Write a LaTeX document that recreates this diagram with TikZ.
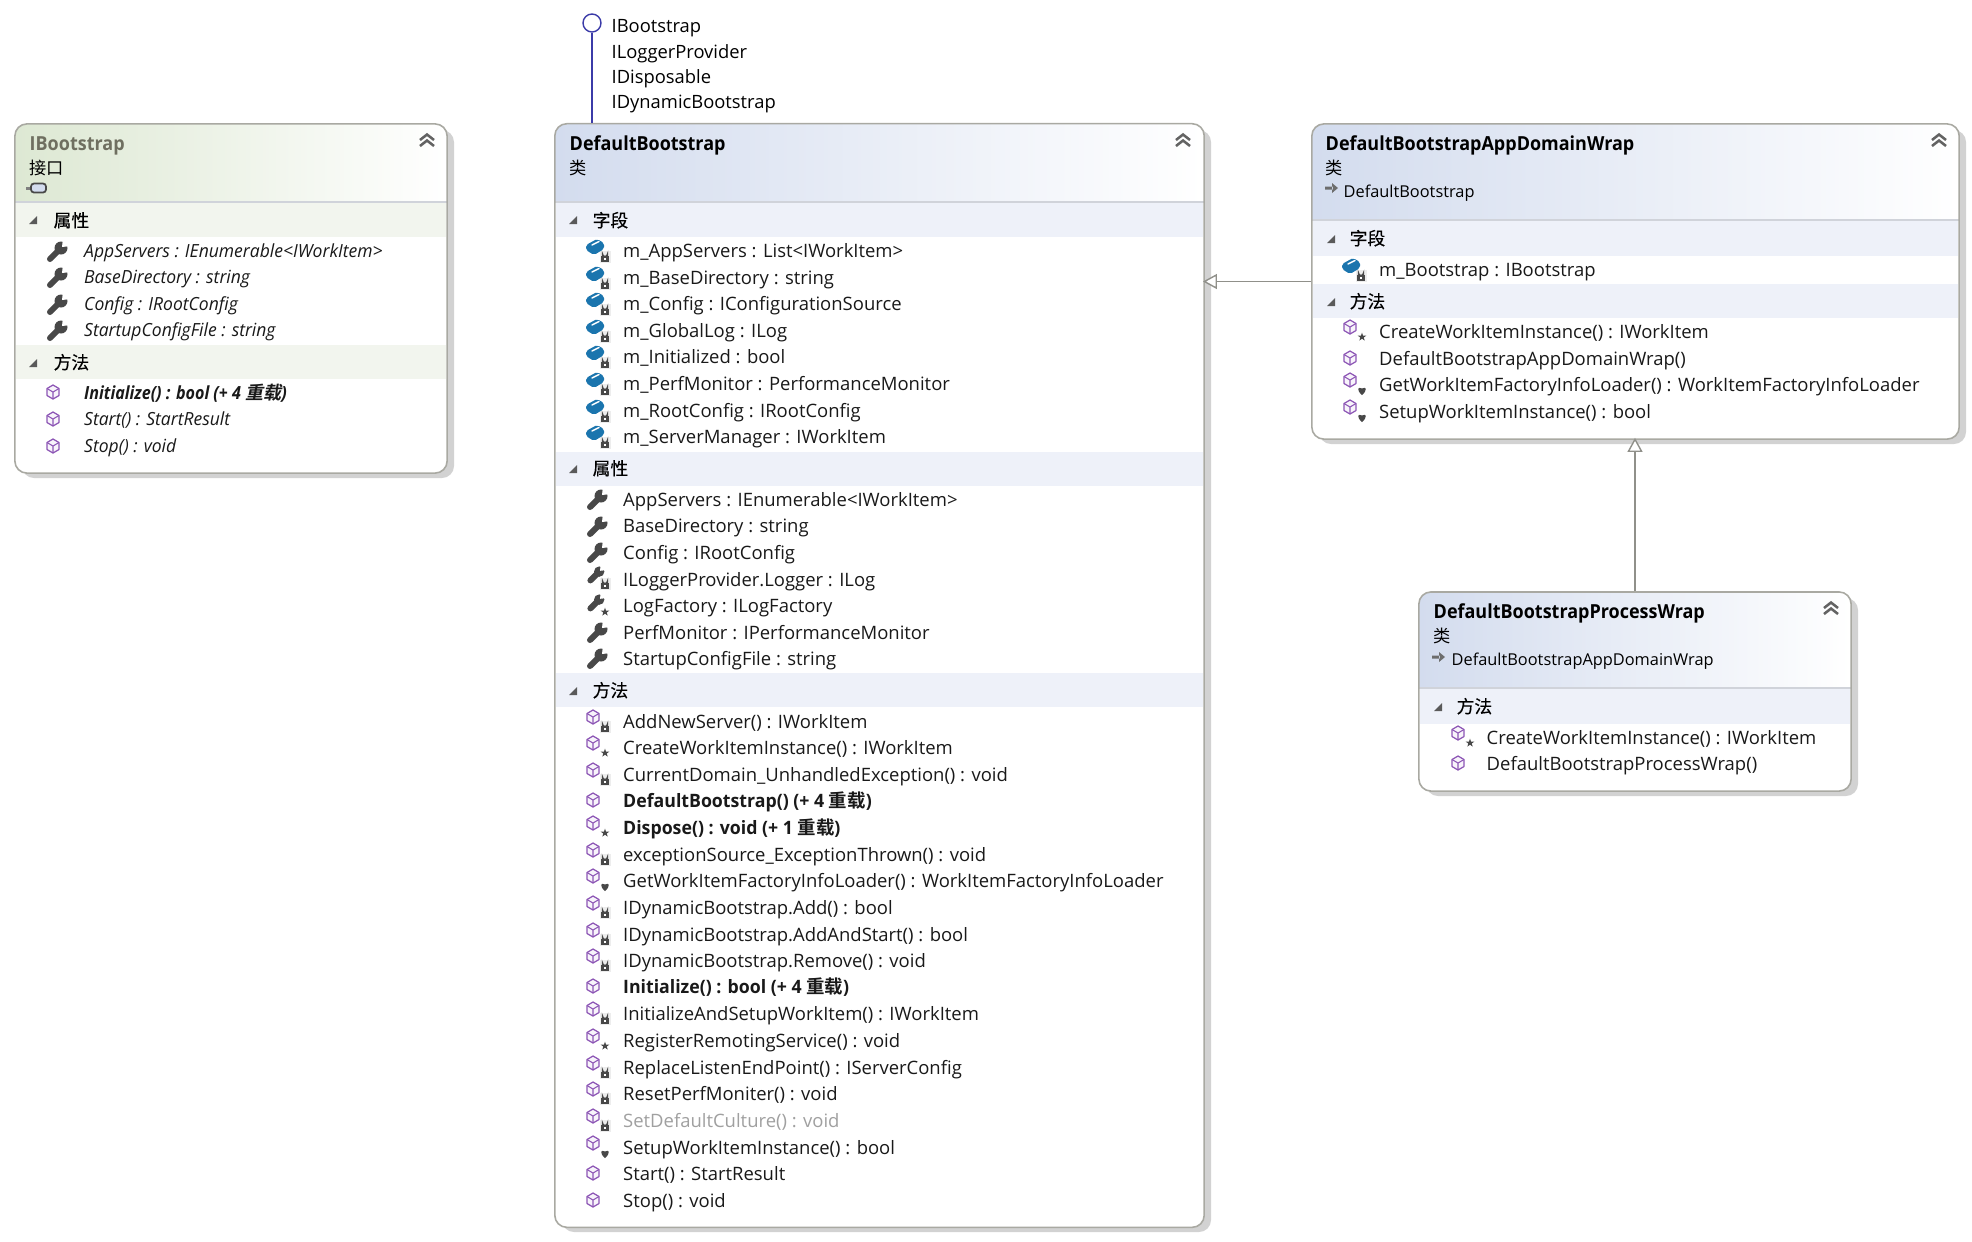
\documentclass[tikz,border=0pt]{standalone}
\usepackage{fontspec}
\setmainfont{Open Sans}
\newfontfamily\cjk[BoldFont=Noto Sans CJK SC Bold,ItalicFont=Noto Sans CJK SC,ItalicFeatures={FakeSlant=0.2},BoldItalicFont=Noto Sans CJK SC Bold,BoldItalicFeatures={FakeSlant=0.2}]{Noto Sans CJK SC}
\usetikzlibrary{arrows.meta, positioning, calc}
\definecolor{boxline}{HTML}{A9A9A2}
\definecolor{boxshadow}{HTML}{D2D2D2}
\definecolor{hdrblue}{HTML}{D3DCEE}
\definecolor{hdrgreen}{HTML}{DDE8D3}
\definecolor{bandblue}{HTML}{EEF1F9}
\definecolor{bandgreen}{HTML}{F2F5EE}
\definecolor{sepline}{HTML}{D0D3DA}
\definecolor{ifaceblue}{HTML}{3B3BA8}
\definecolor{cubepurple}{HTML}{8C55B5}
\definecolor{cubefill}{HTML}{F8F4FB}
\definecolor{fieldblue}{HTML}{1B75AE}
\definecolor{icongray}{HTML}{484848}
\definecolor{lockback}{HTML}{EDEDED}
\definecolor{greytext}{HTML}{6F6F60}
\definecolor{dimtext}{HTML}{A0A0A0}
% box background: x1,y1,x2,y2,header bottom,header colour
\newcommand{\boxback}[6]{%
  \fill[boxshadow, rounded corners=0.12cm] (#1+7,#2+6) rectangle (#3+7,#4+5);
  \begin{scope}
    \clip[rounded corners=0.12cm] (#1,#2) rectangle (#3,#4);
    \fill[white] (#1,#2) rectangle (#3,#4);
    \shade[left color=#6, right color=white] (#1,#2) rectangle (#3,#5);
    \draw[sepline, line width=0.3pt] (#1,#5) -- (#3,#5);
  \end{scope}}

\begin{document}
\begin{tikzpicture}[
    x=0.01cm, y=-0.01cm,
    classbox/.style={draw=boxline, line width=0.45pt, rounded corners=0.12cm, inner sep=0pt},
    title/.style={anchor=base west, inner sep=0pt, yshift=-0.07cm, font=\fontsize{5.5}{6}\selectfont\bfseries\addfontfeature{FakeStretch=0.93}},
    kind/.style={anchor=base west, inner sep=0pt, yshift=-0.06cm, font=\fontsize{4.9}{6}\selectfont\cjk},
    base/.style={anchor=base west, inner sep=0pt, yshift=-0.07cm, font=\fontsize{5.22}{6}\selectfont},
    basename/.style={base, font=\fontsize{4.65}{6}\selectfont},
    sect/.style={anchor=base west, inner sep=0pt, yshift=-0.07cm, font=\fontsize{5.05}{6}\selectfont\cjk\addfontfeature{FakeBold=0.4}},
    item/.style={anchor=base west, inner sep=0pt, yshift=-0.07cm, text=black!90, font=\fontsize{5.25}{6}\selectfont},
    ital/.style={item, font=\fontsize{5.15}{6}\selectfont\itshape\addfontfeature{FakeStretch=0.967}},
    heavyital/.style={item, font=\fontsize{5.15}{6}\selectfont\bfseries\itshape\addfontfeature{FakeStretch=0.89}},
    heavy/.style={item, font=\fontsize{5.25}{6}\selectfont\bfseries\addfontfeature{FakeStretch=0.96}},
    inherit/.style={draw=boxline!85!black, line width=0.4pt, shorten >=-0.02cm, -{Triangle[open, fill=white, length=0.14cm, width=0.15cm]}},
    lolly/.style={draw=ifaceblue, line width=0.4pt},
    chev/.pic={\draw[icongray!85, line width=0.72pt] (-7,-1) -- (0,-6.5) -- (7,-1) (-7,5) -- (0,-0.5) -- (7,5);},
    tri/.pic={\fill[icongray!90] (4,-4) -- (4,4) -- (-4,4) -- cycle;},
    inh/.pic={\fill[icongray!80] (-7,-1.5) rectangle (1,1.5) (0,-5) -- (6,0) -- (0,5) -- cycle;},
    plug/.pic={\fill[icongray!70] (-10,-1.5) rectangle (-4,1.5);
      \draw[icongray, fill=hdrblue, line width=0.5pt, rounded corners=0.03cm] (-5,-4.5) rectangle (10,4.5);},
    wrench/.pic={\draw[icongray, line width=1.7pt, line cap=round] (-7,8) -- (3,-2);
      \fill[icongray] (4,-3) circle (6.5);
      \fill[white] (5,-4) -- (14,-5) -- (6,-13) -- cycle;},
    lock/.pic={\fill[lockback] (-5.5,-6) rectangle (5.5,6);
      \draw[icongray, line width=0.4pt] (-2.5,-1) -- (-2.5,-3) arc (180:0:2.5) -- (2.5,-1);
      \fill[icongray] (-4,-1) rectangle (4,4.5);
      \fill[white] (-1,0.7) rectangle (1,2.7);},
    star/.pic={\fill[icongray] (0,-4.5) -- (1,-1.4) -- (4.3,-1.4) -- (1.7,0.5) -- (2.7,3.6) -- (0,1.7) -- (-2.7,3.6) -- (-1.7,0.5) -- (-4.3,-1.4) -- (-1,-1.4) -- cycle;},
    heart/.pic={\fill[icongray] (0,5) .. controls (-6,0) and (-4,-4) .. (0,-1.5) .. controls (4,-4) and (6,0) .. (0,5) -- cycle;},
    meth/.pic={\draw[cubepurple, fill=cubefill, line width=0.35pt, line join=round] (0,-7) -- (6,-3.5) -- (6,3.5) -- (0,7) -- (-6,3.5) -- (-6,-3.5) -- cycle;
      \draw[cubepurple, line width=0.3pt] (-6,-3.5) -- (0,0) -- (6,-3.5) (0,0) -- (0,7);},
    methlock/.pic={\pic at (12,6) {lock}; \pic at (0,-4) {meth};},
    methstar/.pic={\pic at (0,-4) {meth}; \pic at (12,6) {star};},
    methheart/.pic={\pic at (0,-4) {meth}; \pic at (12,6) {heart};},
    field/.pic={\pic at (10,9) {lock};
      \fill[fieldblue, rounded corners=0.02cm] (-9,-3) -- (2,-9) -- (9,-5) -- (9,1) -- (-1,7) -- (-9,2) -- cycle;
      \draw[white, line width=0.4pt, line cap=round] (-3,-3) -- (4,-6.5);},
    wrenchlock/.pic={\pic at (11,5) {lock}; \pic[scale=0.8] at (2,-5) {wrench};},
    wrenchstar/.pic={\pic at (11,7) {star}; \pic[scale=0.8] at (2,-3) {wrench};},
]
\useasboundingbox (0,0) rectangle (1972,1241);

% Box backgrounds
\boxback{15}{124}{447}{473}{202}{hdrgreen}
\fill[bandgreen] (16,203) rectangle (446,237);
\fill[bandgreen] (16,345) rectangle (446,379);
\boxback{555}{124}{1204}{1227}{202}{hdrblue}
\fill[bandblue] (556,203) rectangle (1203,237);
\fill[bandblue] (556,452) rectangle (1203,486);
\fill[bandblue] (556,673) rectangle (1203,707);
\boxback{1312}{124}{1959}{439}{220}{hdrblue}
\fill[bandblue] (1313,221) rectangle (1958,256);
\fill[bandblue] (1313,284) rectangle (1958,318);
\boxback{1419}{592}{1851}{791}{688}{hdrblue}
\fill[bandblue] (1420,689) rectangle (1850,724);

% Class boxes
\node[classbox, minimum width=4.32cm, minimum height=3.49cm] (ib) at (231,298.5) {};
\node[classbox, minimum width=6.49cm, minimum height=11.03cm] (db) at (879.5,675.5) {};
\node[classbox, minimum width=6.47cm, minimum height=3.15cm] (ad) at (1635.5,281.5) {};
\node[classbox, minimum width=4.32cm, minimum height=1.99cm] (pw) at (1635,691.5) {};

% Connectors
\draw[inherit] (ad) -- (ad -| db.east);
\draw[inherit] (pw) -- (pw |- ad.south);
\node[circle, draw=ifaceblue, line width=0.4pt, fill=white, minimum size=0.18cm, inner sep=0pt] (lp) at (592,23) {};
\draw[lolly] (lp) -- (lp |- db.north);

% Lollipop labels
\node[base] (if1) at (611,25) {IBootstrap};
\node[base] (if2) at (611,51) {ILoggerProvider};
\node[base] (if3) at (611,76) {IDisposable};
\node[base] (if4) at (611,101) {IDynamicBootstrap};

% IBootstrap header
\node[title, text=greytext] (ibname) at (29,143) {IBootstrap};
\node[kind] (ibkind) at (29,168) {接口};
\pic at (36,188) {plug};
\pic at (427,141) {chev};
% IBootstrap properties
\pic at (33,220) {tri};
\node[sect] (ibs1) at (53,220) {属性};
\node[ital] (ibp1) at (83.5,250) {AppServers : IEnumerable<IWorkItem>}; \pic at (57,251) {wrench};
\node[ital] (ibp2) at (83.5,276) {BaseDirectory : string}; \pic at (57,277) {wrench};
\node[ital] (ibp3) at (83.5,303) {Config : IRootConfig}; \pic at (57,304) {wrench};
\node[ital] (ibp4) at (83.5,329) {StartupConfigFile : string}; \pic at (57,330) {wrench};
% IBootstrap methods
\pic at (33,363) {tri};
\node[sect] (ibs2) at (53,362) {方法};
\node[heavyital] (ibm1) at (83.5,392) {Initialize() : bool (+ 4 {\cjk 重载})}; \pic at (53,392) {meth};
\node[ital] (ibm2) at (83.5,418) {Start() : StartResult}; \pic at (53,419) {meth};
\node[ital] (ibm3) at (83.5,445) {Stop() : void}; \pic at (53,446) {meth};

% DefaultBootstrap header
\node[title] (dbname) at (569,143) {DefaultBootstrap};
\node[kind] (dbkind) at (569,168) {类};
\pic at (1183,141) {chev};
% DefaultBootstrap fields
\pic at (573,220) {tri};
\node[sect] (dbs1) at (592,220) {字段};
\node[item] (dbf1) at (622.5,250) {m\_AppServers : List<IWorkItem>}; \pic at (595,248) {field};
\node[item] (dbf2) at (622.5,277) {m\_BaseDirectory : string}; \pic at (595,275) {field};
\node[item] (dbf3) at (622.5,303) {m\_Config : IConfigurationSource}; \pic at (595,301) {field};
\node[item] (dbf4) at (622.5,330) {m\_GlobalLog : ILog}; \pic at (595,328) {field};
\node[item] (dbf5) at (622.5,356) {m\_Initialized : bool}; \pic at (595,354) {field};
\node[item] (dbf6) at (622.5,383) {m\_PerfMonitor : PerformanceMonitor}; \pic at (595,381) {field};
\node[item] (dbf7) at (622.5,410) {m\_RootConfig : IRootConfig}; \pic at (595,408) {field};
\node[item] (dbf8) at (622.5,436) {m\_ServerManager : IWorkItem}; \pic at (595,434) {field};
% DefaultBootstrap properties
\pic at (573,469) {tri};
\node[sect] (dbs2) at (592,468) {属性};
\node[item] (dbp1) at (622.5,499) {AppServers : IEnumerable<IWorkItem>}; \pic at (597,499) {wrench};
\node[item] (dbp2) at (622.5,525) {BaseDirectory : string}; \pic at (597,526) {wrench};
\node[item] (dbp3) at (622.5,552) {Config : IRootConfig}; \pic at (597,552) {wrench};
\node[item] (dbp4) at (622.5,579) {ILoggerProvider.Logger : ILog}; \pic at (594,579) {wrenchlock};
\node[item] (dbp5) at (622.5,605) {LogFactory : ILogFactory}; \pic at (594,605) {wrenchstar};
\node[item] (dbp6) at (622.5,632) {PerfMonitor : IPerformanceMonitor}; \pic at (597,632) {wrench};
\node[item] (dbp7) at (622.5,658) {StartupConfigFile : string}; \pic at (597,658) {wrench};
% DefaultBootstrap methods
\pic at (573,691) {tri};
\node[sect] (dbs3) at (592,690) {方法};
\node[item] (dbm1) at (622.5,721) {AddNewServer() : IWorkItem}; \pic at (593,721) {methlock};
\node[item] (dbm2) at (622.5,747) {CreateWorkItemInstance() : IWorkItem}; \pic at (593,747) {methstar};
\node[item] (dbm3) at (622.5,774) {CurrentDomain\_UnhandledException() : void}; \pic at (593,774) {methlock};
\node[heavy] (dbm4) at (622.5,800) {DefaultBootstrap() (+ 4 {\cjk 重载})}; \pic at (593,800) {meth};
\node[heavy] (dbm5) at (622.5,827) {Dispose() : void (+ 1 {\cjk 重载})}; \pic at (593,827) {methstar};
\node[item] (dbm6) at (622.5,854) {exceptionSource\_ExceptionThrown() : void}; \pic at (593,854) {methlock};
\node[item] (dbm7) at (622.5,880) {GetWorkItemFactoryInfoLoader() : WorkItemFactoryInfoLoader}; \pic at (593,880) {methheart};
\node[item] (dbm8) at (622.5,907) {IDynamicBootstrap.Add() : bool}; \pic at (593,907) {methlock};
\node[item] (dbm9) at (622.5,934) {IDynamicBootstrap.AddAndStart() : bool}; \pic at (593,934) {methlock};
\node[item] (dbm10) at (622.5,960) {IDynamicBootstrap.Remove() : void}; \pic at (593,960) {methlock};
\node[heavy] (dbm11) at (622.5,986) {Initialize() : bool (+ 4 {\cjk 重载})}; \pic at (593,986) {meth};
\node[item] (dbm12) at (622.5,1013) {InitializeAndSetupWorkItem() : IWorkItem}; \pic at (593,1013) {methlock};
\node[item] (dbm13) at (622.5,1040) {RegisterRemotingService() : void}; \pic at (593,1040) {methstar};
\node[item] (dbm14) at (622.5,1067) {ReplaceListenEndPoint() : IServerConfig}; \pic at (593,1067) {methlock};
\node[item] (dbm15) at (622.5,1093) {ResetPerfMoniter() : void}; \pic at (593,1093) {methlock};
\node[item, text=dimtext] (dbm16) at (622.5,1120) {SetDefaultCulture() : void}; \pic at (593,1120) {methlock};
\node[item] (dbm17) at (622.5,1147) {SetupWorkItemInstance() : bool}; \pic at (593,1147) {methheart};
\node[item] (dbm18) at (622.5,1173) {Start() : StartResult}; \pic at (593,1173) {meth};
\node[item] (dbm19) at (622.5,1200) {Stop() : void}; \pic at (593,1200) {meth};

% DefaultBootstrapAppDomainWrap header
\node[title] (adname) at (1325,143) {DefaultBootstrapAppDomainWrap};
\node[kind] (adkind) at (1325,168) {类};
\pic at (1332,188) {inh};
\node[basename] (adbase) at (1343,190) {DefaultBootstrap};
\pic at (1939,141) {chev};
% DefaultBootstrapAppDomainWrap fields
\pic at (1331,239) {tri};
\node[sect] (ads1) at (1349,238) {字段};
\node[item] (adf1) at (1378.5,269) {m\_Bootstrap : IBootstrap}; \pic at (1351,267) {field};
% DefaultBootstrapAppDomainWrap methods
\pic at (1331,302) {tri};
\node[sect] (ads2) at (1349,301) {方法};
\node[item] (adm1) at (1378.5,331) {CreateWorkItemInstance() : IWorkItem}; \pic at (1350,331) {methstar};
\node[item] (adm2) at (1378.5,358) {DefaultBootstrapAppDomainWrap()}; \pic at (1350,358) {meth};
\node[item] (adm3) at (1378.5,384) {GetWorkItemFactoryInfoLoader() : WorkItemFactoryInfoLoader}; \pic at (1350,384) {methheart};
\node[item] (adm4) at (1378.5,411) {SetupWorkItemInstance() : bool}; \pic at (1350,411) {methheart};

% DefaultBootstrapProcessWrap header
\node[title] (pwname) at (1433,611) {DefaultBootstrapProcessWrap};
\node[kind] (pwkind) at (1433,636) {类};
\pic at (1439,657) {inh};
\node[basename] (pwbase) at (1451,658) {DefaultBootstrapAppDomainWrap};
\pic at (1831,609) {chev};
% DefaultBootstrapProcessWrap methods
\pic at (1438,707) {tri};
\node[sect] (pws1) at (1456,706) {方法};
\node[item] (pwm1) at (1486,737) {CreateWorkItemInstance() : IWorkItem}; \pic at (1458,737) {methstar};
\node[item] (pwm2) at (1486,763) {DefaultBootstrapProcessWrap()}; \pic at (1458,763) {meth};
\end{tikzpicture}
\end{document}
